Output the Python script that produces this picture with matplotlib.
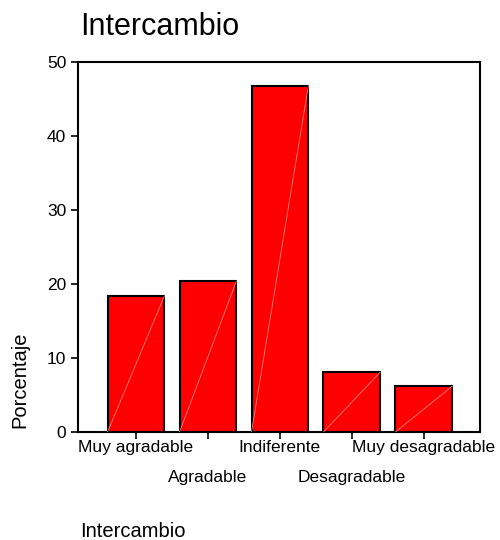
#!/usr/bin/env python3

import matplotlib

matplotlib.use("Agg")
import matplotlib.pyplot as plt

categories = ["Muy agradable", "Agradable", "Indiferente", "Desagradable", "Muy desagradable"]
porcentaje = [18.4, 20.4, 46.8, 8.1, 6.2]
yticks = [0, 10, 20, 30, 40, 50]


def main() -> None:
    plt.rcParams["font.family"] = ["Liberation Sans", "DejaVu Sans"]
    fig = plt.figure(figsize=(5, 5.4), dpi=100)
    ax = fig.add_axes([0.156, 0.2, 0.804, 0.685])

    x = list(range(len(categories)))
    width = 0.79
    ax.bar(x, porcentaje, width=width, color="#ff0000", edgecolor="black", linewidth=1.5, zorder=2)
    # faint diagonal streak seen in each bar
    for xi, v in zip(x, porcentaje):
        ax.plot([xi - width / 2, xi + width / 2], [0, v], color="#ff8080", lw=0.6, zorder=3)

    ax.set_xlim(-0.806, 4.78)
    ax.set_ylim(0, 50)
    ax.set_yticks(yticks)
    ax.tick_params(axis="y", labelsize=12.5, length=5, width=1.2, direction="out")
    ax.tick_params(axis="x", length=5, width=1.2, direction="out")
    ax.set_xticks(x)
    ax.set_xticklabels([""] * len(categories))
    for xi, lab in zip(x, categories):
        off = -0.022 if xi % 2 == 0 else -0.102
        ax.text(xi, off, lab, transform=ax.get_xaxis_transform(), ha="center", va="top", fontsize=12.5)
    for s in ax.spines.values():
        s.set_linewidth(1.5)

    # y label sits at the bottom of the axis, as in the SPSS output
    fig.text(0.04, 1 - 428 / 540, "Porcentaje", rotation=90, ha="center", va="bottom", fontsize=14.5)
    fig.text(0.16, 0.935, "Intercambio", fontsize=22, ha="left", va="baseline")
    fig.text(0.16, 0.006, "Intercambio", fontsize=14.5, ha="left", va="baseline")

    fig.savefig("out.png", dpi=100)


if __name__ == "__main__":
    main()
